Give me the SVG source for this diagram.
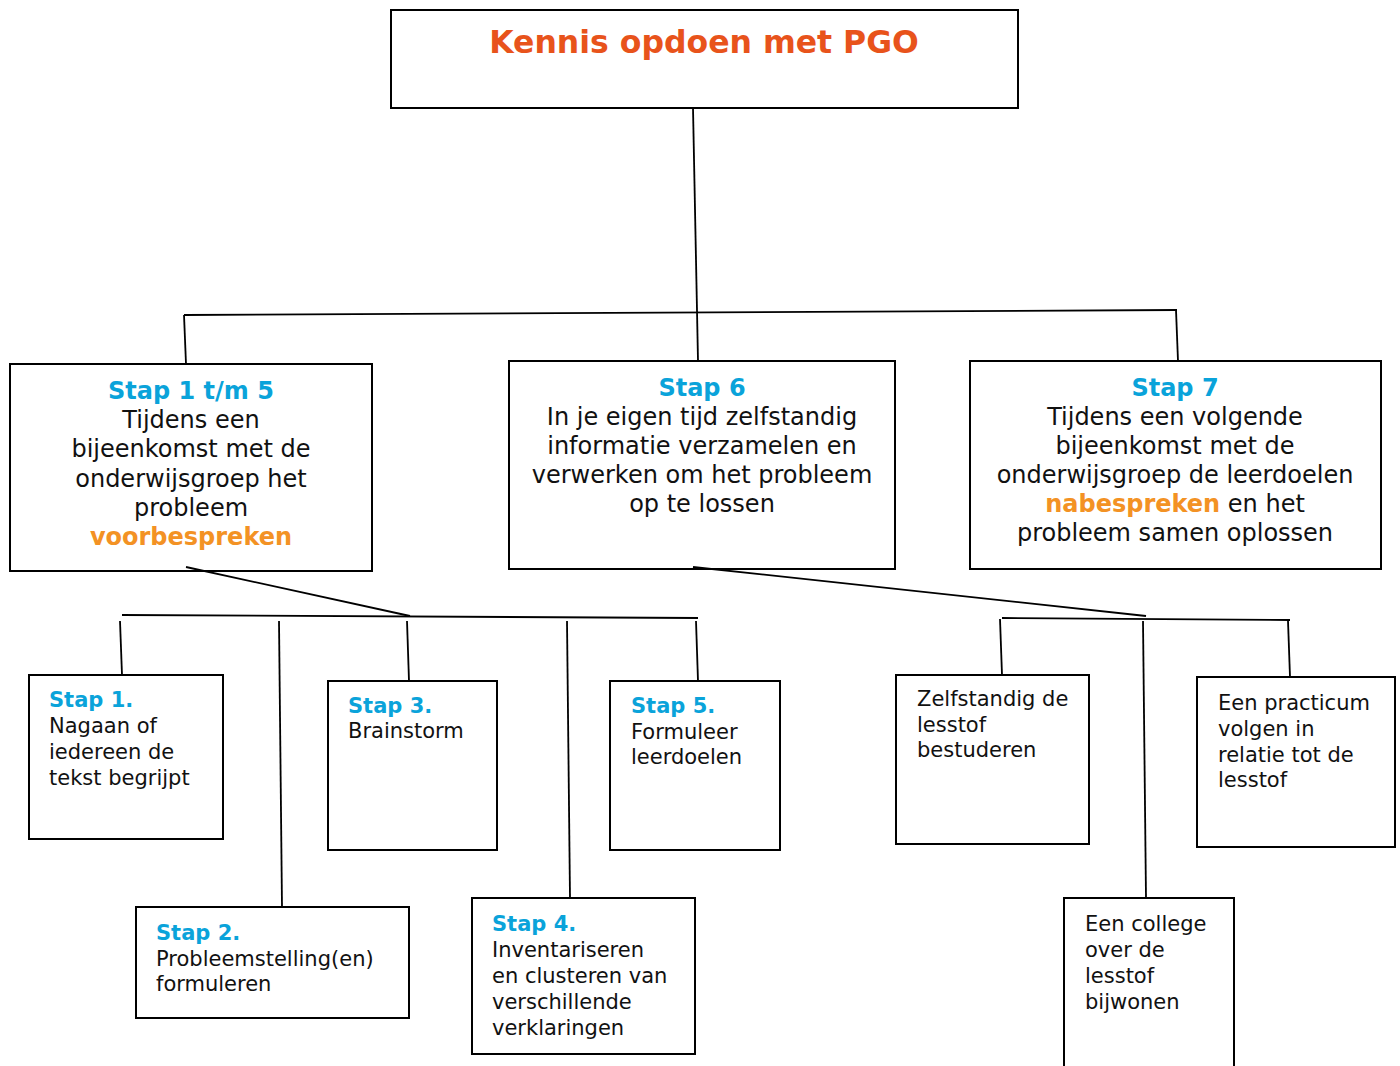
<svg xmlns="http://www.w3.org/2000/svg" width="1400" height="1066" viewBox="0 0 1400 1066">
<style>
.box{fill:#fff;stroke:#000;stroke-width:2}
.con{stroke:#000;stroke-width:1.8;fill:none}
text{font-family:"DejaVu Sans","Verdana",sans-serif;fill:#111}
.big{font-size:24px;text-anchor:middle}
.sm{font-size:21px}
.blue{fill:#0aa3da;font-weight:bold}
.or{fill:#f39224;font-weight:bold}
.title{fill:#e8531b;font-weight:bold;font-size:31.5px;text-anchor:middle}
</style>
<rect width="1400" height="1066" fill="#fff"/>
<g id="title">
<rect class="box" x="391" y="10" width="627" height="98"/>
<text class="title" x="704" y="53">Kennis opdoen met PGO</text>
</g>
<g id="stap1t5">
<rect class="box" x="10" y="364" width="362" height="207"/>
<text class="big" x="191" y="399"><tspan class="blue">Stap 1 t/m 5</tspan></text>
<text class="big" x="191" y="428">Tijdens een</text>
<text class="big" x="191" y="457">bijeenkomst met de</text>
<text class="big" x="191" y="487">onderwijsgroep het</text>
<text class="big" x="191" y="516">probleem</text>
<text class="big" x="191" y="545"><tspan class="or">voorbespreken</tspan></text>
</g>
<g id="stap6">
<rect class="box" x="509" y="361" width="386" height="208"/>
<text class="big" x="702" y="396"><tspan class="blue">Stap 6</tspan></text>
<text class="big" x="702" y="425">In je eigen tijd zelfstandig</text>
<text class="big" x="702" y="454">informatie verzamelen en</text>
<text class="big" x="702" y="483">verwerken om het probleem</text>
<text class="big" x="702" y="512">op te lossen</text>
</g>
<g id="stap7">
<rect class="box" x="970" y="361" width="411" height="208"/>
<text class="big" x="1175" y="396"><tspan class="blue">Stap 7</tspan></text>
<text class="big" x="1175" y="425">Tijdens een volgende</text>
<text class="big" x="1175" y="454">bijeenkomst met de</text>
<text class="big" x="1175" y="483">onderwijsgroep de leerdoelen</text>
<text class="big" x="1175" y="512"><tspan class="or">nabespreken</tspan> en het</text>
<text class="big" x="1175" y="541">probleem samen oplossen</text>
</g>
<g id="stap1">
<rect class="box" x="29" y="675" width="194" height="164"/>
<text class="sm" x="49" y="707"><tspan class="blue">Stap 1.</tspan></text>
<text class="sm" x="49" y="733">Nagaan of</text>
<text class="sm" x="49" y="759">iedereen de</text>
<text class="sm" x="49" y="785">tekst begrijpt</text>
</g>
<g id="stap2">
<rect class="box" x="136" y="907" width="273" height="111"/>
<text class="sm" x="156" y="940"><tspan class="blue">Stap 2.</tspan></text>
<text class="sm" x="156" y="966">Probleemstelling(en)</text>
<text class="sm" x="156" y="991">formuleren</text>
</g>
<g id="stap3">
<rect class="box" x="328" y="681" width="169" height="169"/>
<text class="sm" x="348" y="713"><tspan class="blue">Stap 3.</tspan></text>
<text class="sm" x="348" y="738">Brainstorm</text>
</g>
<g id="stap4">
<rect class="box" x="472" y="898" width="223" height="156"/>
<text class="sm" x="492" y="931"><tspan class="blue">Stap 4.</tspan></text>
<text class="sm" x="492" y="957">Inventariseren</text>
<text class="sm" x="492" y="983">en clusteren van</text>
<text class="sm" x="492" y="1009">verschillende</text>
<text class="sm" x="492" y="1035">verklaringen</text>
</g>
<g id="stap5">
<rect class="box" x="610" y="681" width="170" height="169"/>
<text class="sm" x="631" y="713"><tspan class="blue">Stap 5.</tspan></text>
<text class="sm" x="631" y="739">Formuleer</text>
<text class="sm" x="631" y="764">leerdoelen</text>
</g>
<g id="zelfstandig">
<rect class="box" x="896" y="675" width="193" height="169"/>
<text class="sm" x="917" y="706">Zelfstandig de</text>
<text class="sm" x="917" y="732">lesstof</text>
<text class="sm" x="917" y="757">bestuderen</text>
</g>
<g id="practicum">
<rect class="box" x="1197" y="677" width="198" height="170"/>
<text class="sm" x="1218" y="710">Een practicum</text>
<text class="sm" x="1218" y="736">volgen in</text>
<text class="sm" x="1218" y="762">relatie tot de</text>
<text class="sm" x="1218" y="787">lesstof</text>
</g>
<g id="college">
<rect class="box" x="1064" y="898" width="170" height="180"/>
<text class="sm" x="1085" y="931">Een college</text>
<text class="sm" x="1085" y="957">over de</text>
<text class="sm" x="1085" y="983">lesstof</text>
<text class="sm" x="1085" y="1009">bijwonen</text>
</g>
<g id="connectors">
<line class="con" x1="693" y1="108" x2="698" y2="361"/>
<line class="con" x1="184" y1="315" x2="1177" y2="310"/>
<line class="con" x1="184" y1="315" x2="186" y2="364"/>
<line class="con" x1="1176" y1="310" x2="1178" y2="361"/>
<line class="con" x1="186" y1="567" x2="410" y2="616"/>
<line class="con" x1="122" y1="615" x2="698" y2="618"/>
<line class="con" x1="120" y1="621" x2="122" y2="675"/>
<line class="con" x1="279" y1="621" x2="282" y2="907"/>
<line class="con" x1="407" y1="621" x2="409" y2="681"/>
<line class="con" x1="567" y1="621" x2="570" y2="898"/>
<line class="con" x1="696" y1="621" x2="698" y2="681"/>
<line class="con" x1="693" y1="567" x2="1146" y2="616"/>
<line class="con" x1="1002" y1="618" x2="1290" y2="620"/>
<line class="con" x1="1000" y1="619" x2="1002" y2="675"/>
<line class="con" x1="1143" y1="621" x2="1146" y2="898"/>
<line class="con" x1="1288" y1="621" x2="1290" y2="677"/>
</g>
</svg>
